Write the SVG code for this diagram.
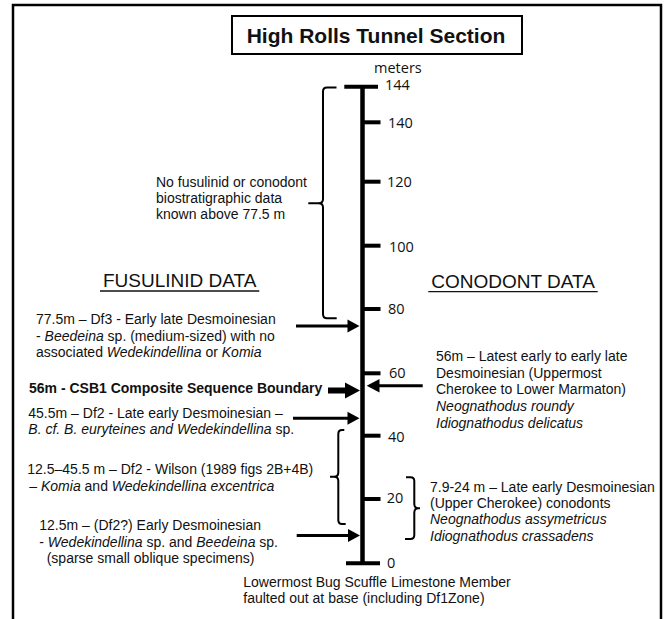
<svg xmlns="http://www.w3.org/2000/svg" width="667" height="619" viewBox="0 0 667 619">
<style>
.t{font-family:"Liberation Sans",Arial,sans-serif;font-size:14px;fill:#111}
.i{font-style:italic}
.b{font-weight:bold}
.h{font-family:"Liberation Sans",Arial,sans-serif;font-size:19px;fill:#111}
.n{font-family:"Open Sans","Liberation Sans",sans-serif;font-size:14.5px;fill:#111}
.ax{stroke:#000;stroke-width:4.5;fill:none}
.tk{stroke:#000;stroke-width:4;fill:none}
.br{stroke:#000;stroke-width:2;fill:none}
.ar{stroke:#000;stroke-width:3;fill:none}
.hd{fill:#000}
</style>
<rect width="667" height="619" fill="#fff"/>
<g id="frame"><path d="M13,625 V5 H661 V625" fill="none" stroke="#000" stroke-width="2.5"/></g>
<g id="title">
<rect x="232" y="16" width="290" height="38" fill="#fff" stroke="#000" stroke-width="2"/>
<text x="376" y="42.5" text-anchor="middle" font-family="Liberation Sans,Arial,sans-serif" font-size="21" font-weight="bold" fill="#111">High Rolls Tunnel Section</text>
</g>
<g id="axis">
<text class="n" x="374" y="72.7">meters</text>
<line class="ax" x1="362.5" y1="85" x2="362.5" y2="565"/>
<line class="tk" x1="344.3" y1="86.7" x2="378" y2="86.7"/>
<line class="tk" x1="346" y1="563.3" x2="380" y2="563.3"/>
<line class="tk" x1="363" y1="122.3" x2="380.5" y2="122.3"/>
<line class="tk" x1="363" y1="181.7" x2="380.5" y2="181.7"/>
<line class="tk" x1="363" y1="245.7" x2="380.5" y2="245.7"/>
<line class="tk" x1="363" y1="309" x2="380.5" y2="309"/>
<line class="tk" x1="363" y1="373.3" x2="380.5" y2="373.3"/>
<line class="tk" x1="363" y1="435.7" x2="380.5" y2="435.7"/>
<line class="tk" x1="363" y1="499" x2="380.5" y2="499"/>
<text class="n" x="385" y="90">144</text>
<text class="n" x="388" y="128.3">140</text>
<text class="n" x="387" y="186.7">120</text>
<text class="n" x="389" y="251.7">100</text>
<text class="n" x="388" y="314">80</text>
<text class="n" x="389" y="378.3">60</text>
<text class="n" x="388" y="441.7">40</text>
<text class="n" x="386.7" y="503">20</text>
<text class="n" x="387" y="567.7">0</text>
</g>
<g id="headings">
<text class="h" x="179.7" y="287.3" text-anchor="middle">FUSULINID DATA</text>
<line x1="100" y1="291" x2="259.3" y2="291" stroke="#111" stroke-width="1.3"/>
<text class="h" x="513" y="288.3" text-anchor="middle">CONODONT DATA</text>
<line x1="428.3" y1="291.7" x2="597.7" y2="291.7" stroke="#111" stroke-width="1.3"/>
</g>
<g id="no-data">
<text class="t" x="156" y="186.7">No fusulinid or conodont</text>
<text class="t" x="156" y="203">biostratigraphic data</text>
<text class="t" x="156" y="219.3">known above 77.5 m</text>
</g>
<g id="f-77-5">
<text class="t" x="36" y="324">77.5m – Df3 - Early late Desmoinesian</text>
<text class="t" x="36" y="340.7">- <tspan class="i">Beedeina</tspan> sp. (medium-sized) with no</text>
<text class="t" x="36" y="357.3">associated <tspan class="i">Wedekindellina</tspan> or <tspan class="i">Komia</tspan></text>
</g>
<g id="csb1">
<text class="t b" x="29" y="393.3">56m - CSB1 Composite Sequence Boundary</text>
</g>
<g id="f-45-5">
<text class="t" x="28.3" y="417.7">45.5m – Df2 - Late early Desmoinesian –</text>
<text class="t" x="28.3" y="434"><tspan class="i">B. cf. B. euryteines and Wedekindellina</tspan> sp.</text>
</g>
<g id="f-wilson">
<text class="t" x="27.3" y="474">12.5–45.5 m – Df2 - Wilson (1989 figs 2B+4B)</text>
<text class="t" x="29.3" y="490.7">– <tspan class="i">Komia</tspan> and <tspan class="i">Wedekindellina excentrica</tspan></text>
</g>
<g id="f-12-5">
<text class="t" x="39.3" y="530">12.5m – (Df2?) Early Desmoinesian</text>
<text class="t" x="39.3" y="546.7">- <tspan class="i">Wedekindellina</tspan> sp. and <tspan class="i">Beedeina</tspan> sp.</text>
<text class="t" x="46.7" y="563.3">(sparse small oblique specimens)</text>
</g>
<g id="c-56">
<text class="t" x="436" y="361">56m – Latest early to early late</text>
<text class="t" x="436" y="377.7">Desmoinesian (Uppermost</text>
<text class="t" x="436" y="394.3">Cherokee to Lower Marmaton)</text>
<text class="t i" x="436" y="411">Neognathodus roundy</text>
<text class="t i" x="436" y="427.7">Idiognathodus delicatus</text>
</g>
<g id="c-7-9">
<text class="t" x="430" y="492.3">7.9-24 m – Late early Desmoinesian</text>
<text class="t" x="430" y="508.3">(Upper Cherokee) conodonts</text>
<text class="t i" x="430" y="524.3">Neognathodus assymetricus</text>
<text class="t i" x="430" y="540.7">Idiognathodus crassadens</text>
</g>
<g id="base-note">
<text class="t" x="243.3" y="586.7">Lowermost Bug Scuffle Limestone Member</text>
<text class="t" x="243.3" y="603.3">faulted out at base (including Df1Zone)</text>
</g>
<g id="connectors">
<path class="br" d="M336.5,87.5 H327 Q323,87.5 323,91.5 V199 Q323,203.3 318.5,203.3 H308.3 M318.5,203.3 Q323,203.3 323,207.5 V314 Q323,318.3 327,318.3 H336.7"/>
<path class="br" d="M344.3,430 H342 Q338.3,430 338.3,434 V472.5 Q338.3,476.7 334,476.7 H330 M334,476.7 Q338.3,476.7 338.3,481 V520 Q338.3,524 342,524 H345.7"/>
<path class="br" d="M406,477.3 H410.5 Q414.3,477.3 414.3,481 V504 Q414.3,508.3 418.5,508.3 H420 M418.5,508.3 Q414.3,508.3 414.3,512.5 V535 Q414.3,539 410.5,539 H405"/>
<line class="ar" x1="296" y1="326" x2="349" y2="326"/>
<polygon class="hd" points="347.5,319.5 359.5,326 347.5,332.5"/>
<rect class="hd" x="328" y="387.5" width="19" height="6"/>
<polygon class="hd" points="345,382.5 360,390.5 345,398.5"/>
<line class="ar" x1="293" y1="418.3" x2="349" y2="418.3"/>
<polygon class="hd" points="347.5,411.8 359.5,418.3 347.5,424.8"/>
<line class="ar" x1="296.7" y1="535.5" x2="349" y2="535.5"/>
<polygon class="hd" points="348,529 360,535.5 348,542"/>
<line class="ar" x1="422.7" y1="385.7" x2="378" y2="385.7"/>
<polygon class="hd" points="379.5,379 366.7,385.7 379.5,392.4"/>
</g>
</svg>
